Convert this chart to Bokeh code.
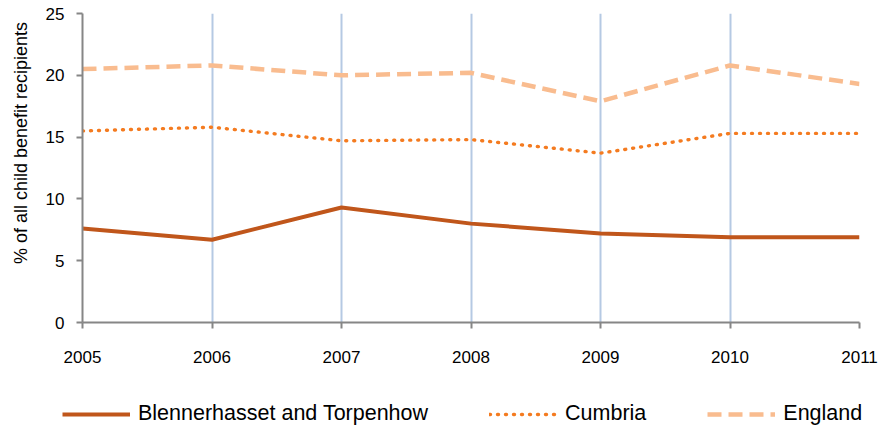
from bokeh.plotting import figure
from bokeh.models import Range1d, FixedTicker, Legend, LegendItem
from bokeh.embed import file_html
from bokeh.resources import INLINE

years = [2005, 2006, 2007, 2008, 2009, 2010, 2011]
blennerhasset = [7.6, 6.7, 9.3, 8.0, 7.2, 6.9, 6.9]
cumbria = [15.5, 15.8, 14.7, 14.8, 13.7, 15.3, 15.3]
england = [20.5, 20.8, 20.0, 20.2, 17.9, 20.8, 19.3]
y_ticks = [0, 5, 10, 15, 20, 25]
series_names = ["Blennerhasset and Torpenhow", "Cumbria", "England"]
y_title = "% of all child benefit recipients"

FONT = "Liberation Sans"
styles = [
    dict(line_color="#C0561B", line_width=4),
    dict(line_color="#F47B20", line_width=3.4, line_dash="1 7", line_cap="round"),
    dict(line_color="#F9BC8F", line_width=4.5, line_dash="14 7"),
]

p = figure(width=881, height=390, output_backend="svg", toolbar_location=None,
           x_range=Range1d(2005, 2011), y_range=Range1d(0, 25),
           min_border_left=82, min_border_right=22, min_border_top=13,
           min_border_bottom=68)
p.outline_line_color = None
p.background_fill_color = "white"
p.border_fill_color = "white"

for vals, st in zip([blennerhasset, cumbria, england], styles):
    p.line(years, vals, **st)

# axes
p.xaxis.ticker = FixedTicker(ticks=years)
p.yaxis.ticker = FixedTicker(ticks=y_ticks)
for ax in (p.xaxis[0], p.yaxis[0]):
    ax.axis_line_color = "#868686"
    ax.axis_line_width = 2
    ax.major_tick_line_color = "#868686"
    ax.major_tick_line_width = 2
    ax.major_tick_in = 0
    ax.major_tick_out = 6
    ax.minor_tick_line_color = None
    ax.major_label_text_font = FONT
    ax.major_label_text_font_size = "17px"
    ax.major_label_text_color = "black"
p.xaxis.major_label_standoff = 22
p.yaxis.major_label_standoff = 12
# leading no-break spaces shift the centred (rotated) title upward, as in the reference
p.yaxis.axis_label = "\u00a0" * 10 + y_title
p.yaxis.axis_label_text_font = FONT
p.yaxis.axis_label_text_font_size = "18px"
p.yaxis.axis_label_text_font_style = "normal"
p.yaxis.axis_label_text_color = "black"
p.yaxis.axis_label_standoff = 12

p.xgrid.grid_line_color = "#B5C9E3"
p.xgrid.grid_line_width = 2
p.ygrid.grid_line_color = None

# legend strip (separate root so its frame spans the full width)
lg = figure(width=881, height=38, output_backend="svg", toolbar_location=None,
            x_range=Range1d(0, 1), y_range=Range1d(0, 1),
            x_axis_type=None, y_axis_type=None,
            min_border_left=0, min_border_right=0, min_border_top=0,
            min_border_bottom=0)
lg.outline_line_color = None
lg.xgrid.visible = False
lg.ygrid.visible = False
items = []
for name, st in zip(series_names, styles):
    # legend sample lines only: data lie outside the visible range
    r = lg.line(x=[5, 6], y=[5, 5], **st)
    items.append(LegendItem(label=name, renderers=[r]))

legend = Legend(items=items, orientation="horizontal", location=(62, 2),
                label_text_font=FONT, label_text_font_size="21.5px",
                label_text_color="black",
                glyph_width=68, glyph_height=20, label_standoff=8,
                spacing=61, padding=0, margin=0,
                border_line_color=None, background_fill_alpha=0)
lg.add_layout(legend, "center")

open("out.html", "w").write(file_html([p, lg], INLINE))
